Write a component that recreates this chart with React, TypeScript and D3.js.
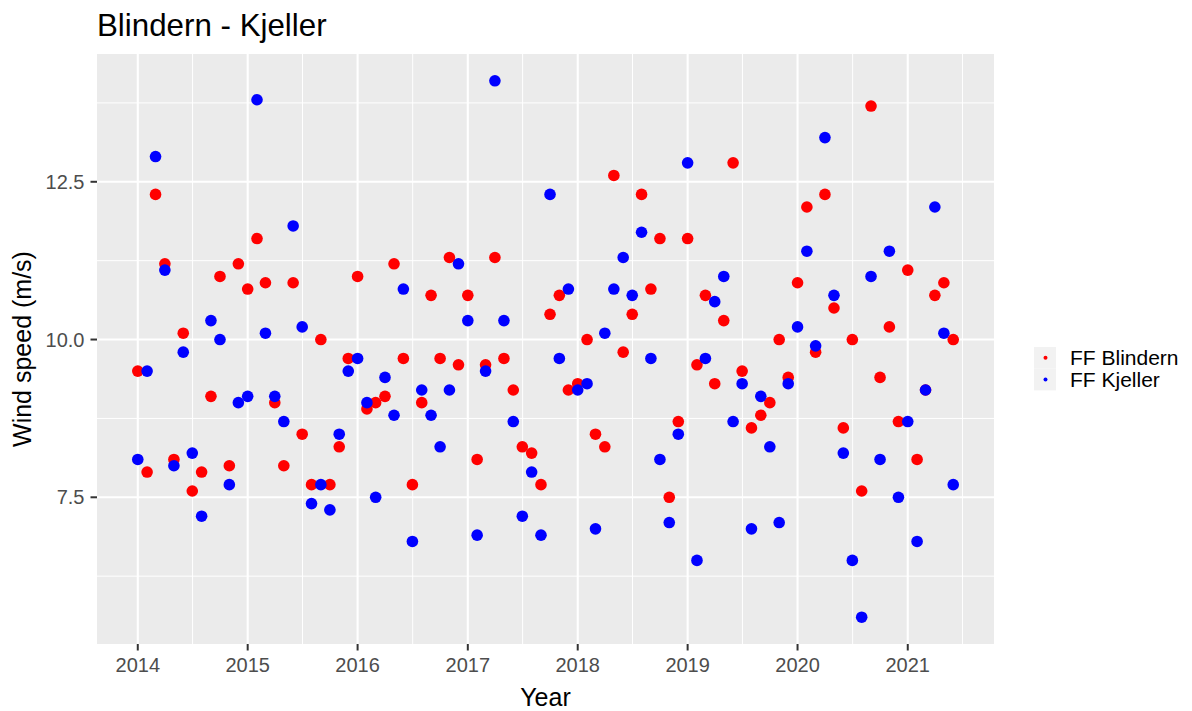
import React, { useEffect, useRef } from 'react';
import * as d3 from 'd3';

// Monthly mean wind speed, Jan 2014 - Jun 2021
const startMonth = new Date(2014, 0, 1);
const nMonths = 90;

const ffBlindern = [
  9.5, 7.9, 12.3, 11.2, 8.1, 10.1, 7.6, 7.9, 9.1, 11.0, 8.0, 11.2,
  10.8, 11.6, 10.9, 9.0, 8.0, 10.9, 8.5, 7.7, 10.0, 7.7, 8.3, 9.7,
  11.0, 8.9, 9.0, 9.1, 11.2, 9.7, 7.7, 9.0, 10.7, 9.7, 11.3, 9.6,
  10.7, 8.1, 9.6, 11.3, 9.7, 9.2, 8.3, 8.2, 7.7, 10.4, 10.7, 9.2,
  9.3, 10.0, 8.5, 8.3, 12.6, 9.8, 10.4, 12.3, 10.8, 11.6, 7.5, 8.7,
  11.6, 9.6, 10.7, 9.3, 10.3, 12.8, 9.5, 8.6, 8.8, 9.0, 10.0, 9.4,
  10.9, 12.1, 9.8, 12.3, 10.5, 8.6, 10.0, 7.6, 13.7, 9.4, 10.2, 8.7,
  11.1, 8.1, 9.2, 10.7, 10.9, 10.0,
];

const ffKjeller = [
  8.1, 9.5, 12.9, 11.1, 8.0, 9.8, 8.2, 7.2, 10.3, 10.0, 7.7, 9.0,
  9.1, 13.8, 10.1, 9.1, 8.7, 11.8, 10.2, 7.4, 7.7, 7.3, 8.5, 9.5,
  9.7, 9.0, 7.5, 9.4, 8.8, 10.8, 6.8, 9.2, 8.8, 8.3, 9.2, 11.2,
  10.3, 6.9, 9.5, 14.1, 10.3, 8.7, 7.2, 7.9, 6.9, 12.3, 9.7, 10.8,
  9.2, 9.3, 7.0, 10.1, 10.8, 11.3, 10.7, 11.7, 9.7, 8.1, 7.1, 8.5,
  12.8, 6.5, 9.7, 10.6, 11.0, 8.7, 9.3, 7.0, 9.1, 8.3, 7.1, 9.3,
  10.2, 11.4, 9.9, 13.2, 10.7, 8.2, 6.5, 5.6, 11.0, 8.1, 11.4, 7.5,
  8.7, 6.8, 9.2, 12.1, 10.1, 7.7,
];

const seriesNames = ['FF Blindern', 'FF Kjeller'];
const seriesColors = ['#FF0000', '#0000FF'];
const yBreaks = [7.5, 10.0, 12.5];
const yMinor = [6.25, 8.75, 11.25, 13.75];
const xBreakYears = [2014, 2015, 2016, 2017, 2018, 2019, 2020, 2021];

const FONT = '"Liberation Sans", Arial, sans-serif';

const App = () => {
  const svgRef = useRef<SVGSVGElement | null>(null);
  const width = 1192;
  const height = 711;
  const panel = { left: 97, right: 994, top: 54, bottom: 644 };

  useEffect(() => {
    if (!svgRef.current) return;
    const svg = d3.select(svgRef.current);
    svg.selectAll('*').remove();

    const dates = d3.range(nMonths).map(i => d3.timeMonth.offset(startMonth, i));
    const series = [ffBlindern, ffKjeller].map((vals, s) =>
      vals.map((v, i) => ({ date: dates[i], value: v, s }))
    );
    const all = series.flat();

    // ggplot-style 5% expansion
    const [d0, d1] = d3.extent(dates) as [Date, Date];
    const dSpan = +d1 - +d0;
    const x = d3.scaleTime()
      .domain([new Date(+d0 - dSpan * 0.05), new Date(+d1 + dSpan * 0.05)])
      .range([panel.left, panel.right]);

    const [v0, v1] = d3.extent(all, d => d.value) as [number, number];
    const vSpan = v1 - v0;
    const y = d3.scaleLinear()
      .domain([v0 - vSpan * 0.05, v1 + vSpan * 0.05])
      .range([panel.bottom, panel.top]);

    // panel
    svg.append('rect')
      .attr('x', panel.left).attr('y', panel.top)
      .attr('width', panel.right - panel.left)
      .attr('height', panel.bottom - panel.top)
      .attr('fill', '#EBEBEB');

    const majorX = xBreakYears.map(yr => new Date(yr, 0, 1));
    const minorX = xBreakYears.map(yr => new Date(yr, 6, 2));

    const grid = svg.append('g');
    grid.selectAll('.hmin').data(yMinor).enter().append('line')
      .attr('x1', panel.left).attr('x2', panel.right)
      .attr('y1', d => y(d)).attr('y2', d => y(d))
      .attr('stroke', '#fff').attr('stroke-width', 1);
    grid.selectAll('.vmin').data(minorX).enter().append('line')
      .attr('x1', d => x(d)).attr('x2', d => x(d))
      .attr('y1', panel.top).attr('y2', panel.bottom)
      .attr('stroke', '#fff').attr('stroke-width', 1);
    grid.selectAll('.hmaj').data(yBreaks).enter().append('line')
      .attr('x1', panel.left).attr('x2', panel.right)
      .attr('y1', d => y(d)).attr('y2', d => y(d))
      .attr('stroke', '#fff').attr('stroke-width', 2.1);
    grid.selectAll('.vmaj').data(majorX).enter().append('line')
      .attr('x1', d => x(d)).attr('x2', d => x(d))
      .attr('y1', panel.top).attr('y2', panel.bottom)
      .attr('stroke', '#fff').attr('stroke-width', 2.1);

    // points: Blindern first, Kjeller on top
    series.forEach((pts, s) => {
      svg.append('g').selectAll('circle').data(pts).enter().append('circle')
        .attr('cx', d => x(d.date))
        .attr('cy', d => y(d.value))
        .attr('r', 5.8)
        .attr('fill', seriesColors[s]);
    });

    // axes ticks + labels
    const axes = svg.append('g').style('font-family', FONT);
    axes.selectAll('.xt').data(majorX).enter().append('line')
      .attr('x1', d => x(d)).attr('x2', d => x(d))
      .attr('y1', panel.bottom).attr('y2', panel.bottom + 6.5)
      .attr('stroke', '#333').attr('stroke-width', 2);
    axes.selectAll('.xl').data(majorX).enter().append('text')
      .attr('x', d => x(d)).attr('y', 672)
      .attr('text-anchor', 'middle')
      .attr('font-size', 20).attr('fill', '#4D4D4D')
      .text(d => d3.timeFormat('%Y')(d));

    axes.selectAll('.yt').data(yBreaks).enter().append('line')
      .attr('x1', panel.left - 6.5).attr('x2', panel.left)
      .attr('y1', d => y(d)).attr('y2', d => y(d))
      .attr('stroke', '#333').attr('stroke-width', 2);
    axes.selectAll('.yl').data(yBreaks).enter().append('text')
      .attr('x', panel.left - 12.5).attr('y', d => y(d) + 7.2)
      .attr('text-anchor', 'end')
      .attr('font-size', 20).attr('fill', '#4D4D4D')
      .text(d => d3.format('.1f')(d));

    // titles
    axes.append('text')
      .attr('x', (panel.left + panel.right) / 2).attr('y', 706)
      .attr('text-anchor', 'middle').attr('font-size', 25).attr('fill', '#000')
      .text('Year');
    axes.append('text')
      .attr('transform', `translate(31,${(panel.top + panel.bottom) / 2}) rotate(-90)`)
      .attr('text-anchor', 'middle').attr('font-size', 25).attr('fill', '#000')
      .text('Wind speed (m/s)');
    axes.append('text')
      .attr('x', panel.left).attr('y', 36)
      .attr('font-size', 31.3).attr('fill', '#000')
      .text('Blindern - Kjeller');

    // legend
    const legend = svg.append('g').style('font-family', FONT);
    const keyH = 21.7;
    const legTop = 347;
    seriesNames.forEach((name, i) => {
      const cy = legTop + keyH * i + keyH / 2;
      legend.append('rect')
        .attr('x', 1034).attr('y', legTop + keyH * i)
        .attr('width', 22).attr('height', keyH)
        .attr('fill', '#F2F2F2');
      legend.append('circle')
        .attr('cx', 1045.5).attr('cy', cy).attr('r', 2)
        .attr('fill', seriesColors[i]);
      legend.append('text')
        .attr('x', 1070).attr('y', cy + 7.2)
        .attr('font-size', 21).attr('fill', '#000')
        .text(name);
    });
  }, []);

  return (
    <div style={{ position: 'absolute', left: 0, top: 0, background: '#fff' }}>
      <svg ref={svgRef} width={width} height={height} style={{ display: 'block' }} />
    </div>
  );
};

export default App;
